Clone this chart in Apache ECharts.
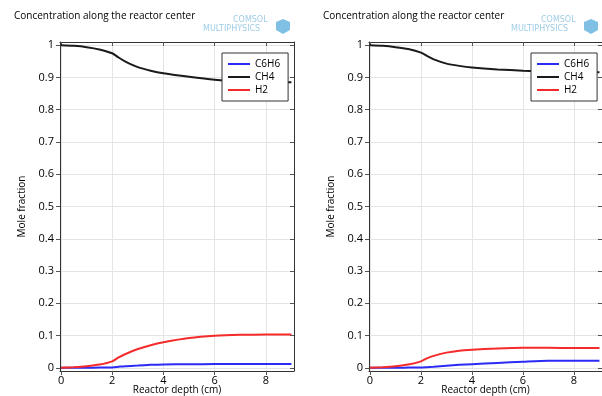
<!DOCTYPE html>
<html>
<head>
<meta charset="utf-8">
<script src="https://cdn.jsdelivr.net/npm/echarts@6/dist/echarts.min.js"></script>
<style>
  html, body { margin: 0; padding: 0; background: #fff; }
  #chart { width: 602px; height: 396px; }
</style>
</head>
<body>
<div id="chart"></div>
<script>
// reactor depth (cm), same sample points for both plots
var depth = [0, 0.5, 1, 1.5, 2, 2.25, 2.5, 3, 3.5, 4, 5, 6, 7, 8, 9];
var xTicks = [0, 2, 4, 6, 8];
var yTicks = [0, 0.1, 0.2, 0.3, 0.4, 0.5, 0.6, 0.7, 0.8, 0.9, 1];

// left plot
var leftC6H6 = [0, 0, 0, 0.0005, 0.001, 0.003, 0.005, 0.007, 0.009, 0.010, 0.011, 0.0115, 0.012, 0.012, 0.012];
var leftCH4 = [1.0, 0.998, 0.994, 0.987, 0.975, 0.962, 0.950, 0.932, 0.921, 0.913, 0.902, 0.893, 0.888, 0.886, 0.885];
var leftH2 = [0, 0.002, 0.005, 0.010, 0.020, 0.032, 0.042, 0.058, 0.070, 0.079, 0.092, 0.099, 0.102, 0.103, 0.103];

// right plot
var rightC6H6 = [0, 0, 0, 0.0005, 0.001, 0.002, 0.003, 0.006, 0.009, 0.011, 0.015, 0.019, 0.022, 0.022, 0.022];
var rightCH4 = [1.0, 0.998, 0.994, 0.988, 0.977, 0.966, 0.956, 0.943, 0.936, 0.931, 0.925, 0.921, 0.918, 0.917, 0.916];
var rightH2 = [0, 0.002, 0.005, 0.010, 0.020, 0.030, 0.037, 0.047, 0.053, 0.056, 0.060, 0.062, 0.062, 0.061, 0.061];

var names = ['C6H6', 'CH4', 'H2'];
var colors = ['#2b2bf5', '#1a1a1a', '#f52a2a'];
var font = 'Open Sans';

function pairs(ys) {
  return depth.map(function (x, i) { return [x, ys[i]]; });
}

function xAx(grid, main) {
  return {
    type: 'value', gridIndex: grid, min: -0.04, max: 9.1,
    position: main ? 'bottom' : 'top',
    name: main ? 'Reactor depth (cm)' : '', nameLocation: 'middle', nameGap: 14, nameMoveOverlap: false,
    nameTextStyle: { fontFamily: font, fontSize: 10, color: '#000' },
    axisLine: { show: true, onZero: false, lineStyle: { color: '#333', width: 1 } },
    axisTick: { show: true, inside: !main, length: 4, customValues: xTicks, lineStyle: { color: '#555' } },
    axisLabel: { show: main, customValues: xTicks, margin: 4, fontFamily: font, fontSize: 11, color: '#000' },
    splitLine: { show: main, lineStyle: { color: '#e4e4e4', width: 1 } }
  };
}

function yAx(grid, main) {
  return {
    type: 'value', gridIndex: grid, min: -0.01, max: 1.01,
    position: main ? 'left' : 'right',
    name: main ? 'Mole fraction' : '', nameLocation: 'middle', nameGap: 33, nameMoveOverlap: false,
    nameTextStyle: { fontFamily: font, fontSize: 10, color: '#000' },
    axisLine: { show: true, onZero: false, lineStyle: { color: '#333', width: 1 } },
    axisTick: { show: true, inside: !main, length: 4, customValues: yTicks, lineStyle: { color: '#555' } },
    axisLabel: { show: main, customValues: yTicks, margin: 6, fontFamily: font, fontSize: 11, color: '#000' },
    splitLine: { show: main, lineStyle: { color: '#e4e4e4', width: 1 } }
  };
}

function lines(grid, sets) {
  return sets.map(function (ys, i) {
    return {
      name: names[i], type: 'line', xAxisIndex: grid * 2, yAxisIndex: grid * 2,
      data: pairs(ys), showSymbol: false, smooth: 0.25,
      lineStyle: { color: colors[i], width: 2 }, itemStyle: { color: colors[i] }
    };
  });
}

function legend(left) {
  return {
    orient: 'vertical', left: left, top: 53, data: names,
    icon: 'rect', itemWidth: 22, itemHeight: 2, itemGap: 1,
    padding: [5, 8, 5, 6], borderColor: '#333', borderWidth: 1, backgroundColor: '#fff',
    textStyle: { fontFamily: font, fontSize: 10, color: '#000', lineHeight: 12 }
  };
}

function logo(x) {
  return [
    { type: 'text', left: x + 30, top: 16, style: { text: 'COMSOL', fill: '#9fcde6', font: '8px DejaVu Sans' } },
    { type: 'text', left: x, top: 25, style: { text: 'MULTIPHYSICS', fill: '#9fcde6', font: '8px DejaVu Sans' } },
    { type: 'polygon', left: x + 73, top: 19, shape: { points: [[0, 3], [7, 0], [14, 3], [14, 11], [7, 15], [0, 11]] }, style: { fill: '#7fc0e4' } }
  ];
}

var chart = echarts.init(document.getElementById('chart'));
chart.setOption({
  animation: false,
  title: [
    { text: 'Concentration along the reactor center', left: 14, top: 11, padding: 0, textStyle: { fontFamily: font, fontSize: 10, fontWeight: 'normal', color: '#000' } },
    { text: 'Concentration along the reactor center', left: 323, top: 11, padding: 0, textStyle: { fontFamily: font, fontSize: 10, fontWeight: 'normal', color: '#000' } }
  ],
  grid: [
    { left: 60, right: 308, top: 42, bottom: 25, outerBoundsMode: 'none' },
    { left: 369, right: 0, top: 42, bottom: 25, outerBoundsMode: 'none' }
  ],
  xAxis: [xAx(0, true), xAx(0, false), xAx(1, true), xAx(1, false)],
  yAxis: [yAx(0, true), yAx(0, false), yAx(1, true), yAx(1, false)],
  legend: [legend(222), legend(531)],
  graphic: logo(203).concat(logo(511)),
  series: lines(0, [leftC6H6, leftCH4, leftH2]).concat(lines(1, [rightC6H6, rightCH4, rightH2]))
});
</script>
</body>
</html>
